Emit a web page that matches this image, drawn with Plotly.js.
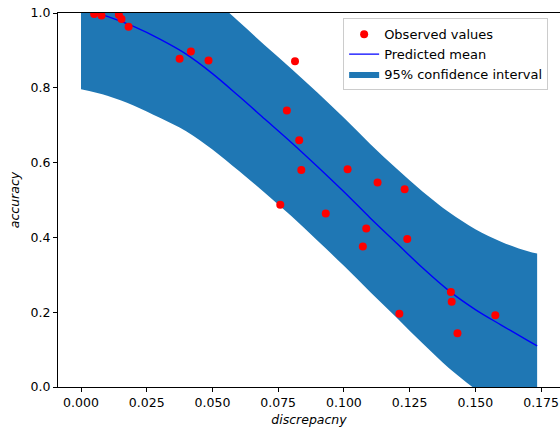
<!DOCTYPE html>
<html>
<head>
<meta charset="utf-8">
<script src="https://cdn.plot.ly/plotly-3.0.1.min.js"></script>
<style>
html, body { margin: 0; padding: 0; overflow: hidden; background: #fff; }
#chart { width: 600px; height: 430px; }
</style>
</head>
<body>
<div id="chart"></div>
<script>
// Observed points
const obsX = [0.0050, 0.0078, 0.0144, 0.0154, 0.0181, 0.0375, 0.0418, 0.0485, 0.0758, 0.0783, 0.0814, 0.0830, 0.0838, 0.0931, 0.1014, 0.1072, 0.1085, 0.1128, 0.1211, 0.1231, 0.1241, 0.1407, 0.1410, 0.1432, 0.1576];
const obsY = [0.997, 0.993, 0.995, 0.984, 0.963, 0.878, 0.897, 0.873, 0.487, 0.739, 0.871, 0.660, 0.580, 0.464, 0.582, 0.376, 0.424, 0.547, 0.196, 0.529, 0.396, 0.254, 0.228, 0.144, 0.192];

// Prediction grid
const gridX = [0.00, 0.01, 0.02, 0.03, 0.04, 0.05, 0.06, 0.07, 0.08, 0.09, 0.10, 0.11, 0.12, 0.13, 0.14, 0.15, 0.16, 0.17, 0.1735];
const meanY = [1.012, 0.991, 0.964, 0.930, 0.890, 0.838, 0.778, 0.716, 0.654, 0.589, 0.522, 0.452, 0.385, 0.318, 0.257, 0.207, 0.165, 0.124, 0.110];
const upperY = [1.228, 1.204, 1.174, 1.136, 1.093, 1.040, 0.977, 0.913, 0.851, 0.787, 0.720, 0.650, 0.584, 0.522, 0.467, 0.422, 0.388, 0.363, 0.357];
const lowerY = [0.796, 0.779, 0.753, 0.720, 0.684, 0.635, 0.578, 0.519, 0.457, 0.391, 0.324, 0.254, 0.186, 0.116, 0.050, -0.006, -0.058, -0.115, -0.137];

const xTicks = [0.000, 0.025, 0.050, 0.075, 0.100, 0.125, 0.150, 0.175];
const yTicks = [0.0, 0.2, 0.4, 0.6, 0.8, 1.0];

const font = 'DejaVu Sans, sans-serif';
const fs = 12.5;

const upper = {
  x: gridX, y: upperY, type: 'scatter', mode: 'lines',
  line: { width: 0, color: '#1f77b4', shape: 'spline', smoothing: 1 },
  showlegend: false, hoverinfo: 'skip'
};
const lower = {
  x: gridX, y: lowerY, type: 'scatter', mode: 'lines', fill: 'tonexty',
  fillcolor: '#1f77b4', line: { width: 0, color: '#1f77b4', shape: 'spline', smoothing: 1 },
  name: '95% confidence interval', legendrank: 3, hoverinfo: 'skip'
};
const mean = {
  x: gridX, y: meanY, type: 'scatter', mode: 'lines',
  line: { color: '#0000ff', width: 1.4, shape: 'spline', smoothing: 1 },
  name: 'Predicted mean', legendrank: 2
};
const obs = {
  x: obsX, y: obsY, type: 'scatter', mode: 'markers',
  marker: { color: '#ff0000', size: 8 },
  name: 'Observed values', legendrank: 1
};

const layout = {
  width: 600, height: 430,
  margin: { l: 58, r: 40, t: 13, b: 43 },
  paper_bgcolor: '#ffffff', plot_bgcolor: '#ffffff',
  font: { family: font, size: fs, color: '#000' },
  showlegend: true,
  legend: {
    x: 0.568, y: 0.986, xanchor: 'left', yanchor: 'top',
    traceorder: 'normal',
    bgcolor: 'rgba(255,255,255,0.8)', bordercolor: '#cccccc', borderwidth: 1,
    font: { family: font, size: 13, color: '#000' },
    tracegroupgap: 0
  },
  xaxis: {
    range: [-0.00875, 0.1822], tickvals: xTicks, tickformat: '.3f',
    ticks: 'outside', ticklen: 4, tickcolor: '#000',
    showline: true, mirror: true, linecolor: '#000', linewidth: 1,
    showgrid: false, zeroline: false,
    title: { text: '<i>discrepacny</i>', font: { family: font, size: fs }, standoff: 6 }
  },
  yaxis: {
    range: [0, 1], tickvals: yTicks, tickformat: '.1f',
    ticks: 'outside', ticklen: 4, tickcolor: '#000',
    showline: true, mirror: true, linecolor: '#000', linewidth: 1,
    showgrid: false, zeroline: false,
    title: { text: '<i>accuracy</i>', font: { family: font, size: fs }, standoff: 8 }
  }
};

Plotly.newPlot('chart', [upper, lower, mean, obs], layout, { displayModeBar: false, staticPlot: true });
</script>
</body>
</html>
